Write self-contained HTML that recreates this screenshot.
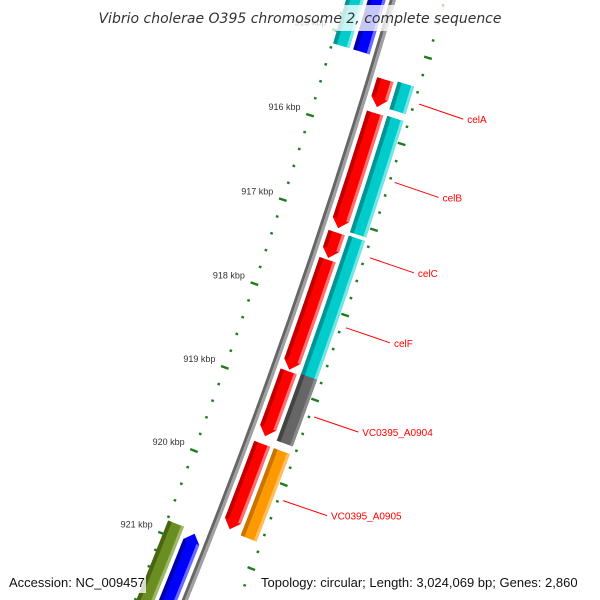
<!DOCTYPE html>
<html><head><meta charset="utf-8"><style>
html,body{margin:0;padding:0;background:#fff;width:600px;height:600px;overflow:hidden;}
svg{display:block;font-family:"Liberation Sans","DejaVu Sans",sans-serif;}
</style></head><body>
<svg id="map" width="600" height="600" viewBox="0 0 600 600" xmlns="http://www.w3.org/2000/svg">
<g id="ticks"></g>
<g id="backbone"></g>
<g id="genes"></g>
<g id="labels"></g>
<rect x="98" y="5" width="404" height="26" fill="#fff" opacity="0.78"/>
<text x="300" y="23" text-anchor="middle" font-size="14" font-style="italic" fill="#333" style="font-family:'DejaVu Sans',sans-serif">Vibrio cholerae O395 chromosome 2, complete sequence</text>
<rect x="4" y="571" width="142" height="22" fill="#fff" opacity="0.78"/>
<text x="9" y="587" font-size="13" fill="#111">Accession: NC_009457</text>
<rect x="256" y="571" width="340" height="22" fill="#fff" opacity="0.78"/>
<text x="261" y="587" font-size="13" fill="#111">Topology: circular; Length: 3,024,069 bp; Genes: 2,860</text>
</svg>
<script>
const geneStarts=[914.2,914.2,915.37,915.35,915.76,915.75,917.16,917.15,917.48,918.80,918.78,919.66,919.66,920.84,920.87];
const geneEnds=[915.15,915.15,915.69,915.67,917.11,917.11,917.46,918.81,918.78,919.57,919.57,920.68,920.70,922.5,922.5];
const geneTracks=[-2,-1,1,2,1,2,1,2,1,1,2,1,2,-2,-1];
const geneTypes=['cyan','blue','red','cyan','red','cyan','red','cyan','red','red','grey','red','orange','green','blue'];
const geneStrands=[0,-1,1,0,1,0,1,0,1,1,0,1,0,0,-1];
const labelNames=['celA','celB','celC','celF','VC0395_A0904','VC0395_A0905'];
const labelKbp=[915.52,916.43,917.31,918.13,919.18,920.17];
const tickMin=914, tickMax=922;

const CX=-5605, CY=-1743, R=6246;
const palette={red:['#ff0000','#c00000','#ff7070'],cyan:['#00cccc','#009494','#70e6e6'],grey:['#666666','#444444','#8a8a8a'],orange:['#ff9900','#c87400','#ffbe5c'],blue:['#0000ff','#0000a8','#6b6bff'],green:['#6b8e23','#4a6512','#9cb868']};
const NS='http://www.w3.org/2000/svg';
function ang(p){return (17.44+0.82*(p-916))*Math.PI/180;}
function pt(r,p){const a=ang(p);return [CX+r*Math.cos(a),CY+r*Math.sin(a)];}
function f(v){return v[0].toFixed(2)+' '+v[1].toFixed(2);}
function band(r1,r2,p1,p2){
  return 'M'+f(pt(r2,p1))+' A'+r2+' '+r2+' 0 0 1 '+f(pt(r2,p2))+' L'+f(pt(r1,p2))+' A'+r1+' '+r1+' 0 0 0 '+f(pt(r1,p1))+' Z';
}
function mk(tag,attrs,parent){const e=document.createElementNS(NS,tag);for(const k in attrs)e.setAttribute(k,attrs[k]);parent.appendChild(e);return e;}

const tg=document.getElementById('ticks');
for(let i=Math.round(tickMin*5);i<=Math.round(tickMax*5);i++){
  const p=i/5, major=(i%5===0);
  [[R-46,-1],[R+50,1]].forEach(function(s){
    const len=major?8:2.6;
    const a=pt(s[0]-len/2,p), b=pt(s[0]+len/2,p);
    const l=mk('line',{x1:a[0],y1:a[1],x2:b[0],y2:b[1],stroke:'#1d7d1d','stroke-width':2.4},tg);
    
    
  });
  if(major){
    const q=pt(R-56,p);
    const t=mk('text',{x:q[0].toFixed(1),y:(q[1]-2).toFixed(1),'text-anchor':'end','font-size':9,fill:'#333'},tg);
    t.textContent=(p)+' kbp';
    
    
  }
}
const bb=document.getElementById('backbone');
const b1=mk('path',{d:band(R-3,R,913,923),fill:'#666'},bb);


const b2=mk('path',{d:band(R,R+3,913,923),fill:'#a0a0a0'},bb);



const gg=document.getElementById('genes');
const trackR={'1':[R+7,R+24],'2':[R+28,R+45],'-1':[R-24,R-7],'-2':[R-45,R-28]};
for(let i=0;i<geneStarts.length;i++){
  const rr=trackR[String(geneTracks[i])], r1=rr[0], r2=rr[1], rm=(r1+r2)/2;
  const p1=geneStarts[i], p2=geneEnds[i], c=palette[geneTypes[i]];
  const head=Math.min(0.1,(p2-p1)*0.5);
  let d, bs=p1, be=p2;
  if(geneStrands[i]===1){
    be=p2-head;
    d='M'+f(pt(r2,p1))+' A'+r2+' '+r2+' 0 0 1 '+f(pt(r2,be))+' L'+f(pt(rm,p2))+' L'+f(pt(r1,be))+' A'+r1+' '+r1+' 0 0 0 '+f(pt(r1,p1))+' Z';
  } else if(geneStrands[i]===-1){
    bs=p1+head;
    d='M'+f(pt(rm,p1))+' L'+f(pt(r2,bs))+' A'+r2+' '+r2+' 0 0 1 '+f(pt(r2,p2))+' L'+f(pt(r1,p2))+' A'+r1+' '+r1+' 0 0 0 '+f(pt(r1,bs))+' Z';
  } else d=band(r1,r2,p1,p2);
  const g=mk('g',{},gg);
  
  
  const m=mk('path',{d:d,fill:c[0]},g);
  
  
  const s1=mk('path',{d:band(r1,r1+4,bs,be),fill:c[1]},g);
  
  
  const s2=mk('path',{d:band(r2-3,r2,bs,be),fill:c[2]},g);
  
  
}
const lg=document.getElementById('labels');
for(let i=0;i<labelNames.length;i++){
  const a=pt(R+55,labelKbp[i]);
  const bx=a[0]+44, by=a[1]+15;
  const l=mk('line',{x1:a[0],y1:a[1],x2:bx,y2:by,stroke:'#ff0000','stroke-width':1},lg);
  
  
  const t=mk('text',{x:(bx+4).toFixed(1),y:(by+4).toFixed(1),'font-size':10,fill:'#ff0000'},lg);
  t.textContent=labelNames[i];
  
  
}
</script>
</body></html>
